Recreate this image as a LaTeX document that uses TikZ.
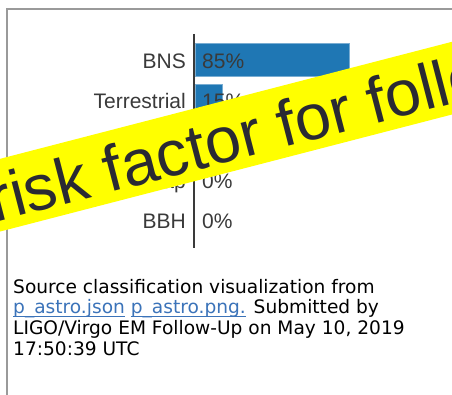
\documentclass[tikz,border=0pt]{standalone}
\usepackage{fontspec}
\setmainfont{DejaVu Sans}
\newfontfamily\chartfont{Liberation Sans}
\definecolor{barblue}{HTML}{1F77B4}
\definecolor{lbl}{HTML}{3A3A3A}
\definecolor{linkblue}{HTML}{3B73B9}
\definecolor{bannertext}{HTML}{2A2A33}
\definecolor{framegray}{HTML}{9A9A9A}
\definecolor{banneryellow}{HTML}{FFFF00}
\newlength\lnkw
\newcommand\lnk[1]{\settowidth\lnkw{#1}\rlap{\textcolor{linkblue}{\rule[-2.6pt]{\lnkw}{1pt}}}\textcolor{linkblue}{#1}}
\tikzset{
  lab/.style={inner sep=0, text=lbl, font=\chartfont\fontsize{21}{25}\selectfont},
  catlab/.style={lab, anchor=base east},
  pctlab/.style={lab, anchor=base west},
  barbox/.style={fill=barblue, draw=barblue!60, line width=0.6pt, anchor=west, inner sep=0, minimum height=33pt},
  capline/.style={inner sep=0, anchor=base west, font=\fontsize{18.6}{20.6}\selectfont},
  framerule/.style={draw=framegray, line width=2pt},
  axisrule/.style={draw=lbl, line width=1.6pt},
}
\begin{document}
\begin{tikzpicture}[x=1pt,y=1pt]
\useasboundingbox (0,0) rectangle (452,394);
\begin{scope}
\clip (0,0) rectangle (452,394);
% frame
\coordinate (fbl) at (6.5,-5);
\coordinate (ftl) at (6.5,385);
\coordinate (ftr) at (470,385);
\draw[framerule] (fbl) -- (ftl) -- (ftr);
% chart axis
\coordinate (axtop) at (194,360);
\coordinate (axbot) at (194,146);
\draw[axisrule] (axtop) -- (axbot);
% bars
\node[barbox, minimum width=154pt] (bnsbar) at (195,334) {};
\node[barbox, minimum width=27pt] (terbar) at (195,293) {};
% category labels
\node[catlab] (lbns) at (186,325.7) {BNS};
\node[catlab] (lter) at (186,285.6) {Terrestrial};
\node[catlab] (lnsbh) at (186,245.5) {NSBH};
\node[catlab] (lmg) at (186,205.4) {MassGap};
\node[catlab] (lbbh) at (186,165.3) {BBH};
% percentages
\node[pctlab] (pbns) at (202,325.7) {85\%};
\node[pctlab] (pter) at (202,285.6) {15\%};
\node[pctlab] (pnsbh) at (202,245.5) {0\%};
\node[pctlab] (pmg) at (202,205.4) {0\%};
\node[pctlab] (pbbh) at (202,165.3) {0\%};
% banner
\begin{scope}[shift={(0,198.8)}, rotate=14.52]
\fill[banneryellow] (-80,-35.2) rectangle (620,35.2);
\node[transform shape, anchor=base west, inner sep=0, text=bannertext, font=\chartfont\fontsize{64.5}{70}\selectfont] (banner) at (-11.5,-25) {risk factor for follo};
\end{scope}
% caption
\node[capline] (cap1) at (13,100.7) {Source classification visualization from};
\node[capline] (cap2) at (13,80.1) {\lnk{p\_astro.json} \lnk{p\_astro.png.} Submitted by};
\node[capline] (cap3) at (13,59.5) {LIGO/Virgo EM Follow-Up on May 10, 2019};
\node[capline] (cap4) at (13,39) {17:50:39 UTC};
\end{scope}
\end{tikzpicture}
\end{document}
